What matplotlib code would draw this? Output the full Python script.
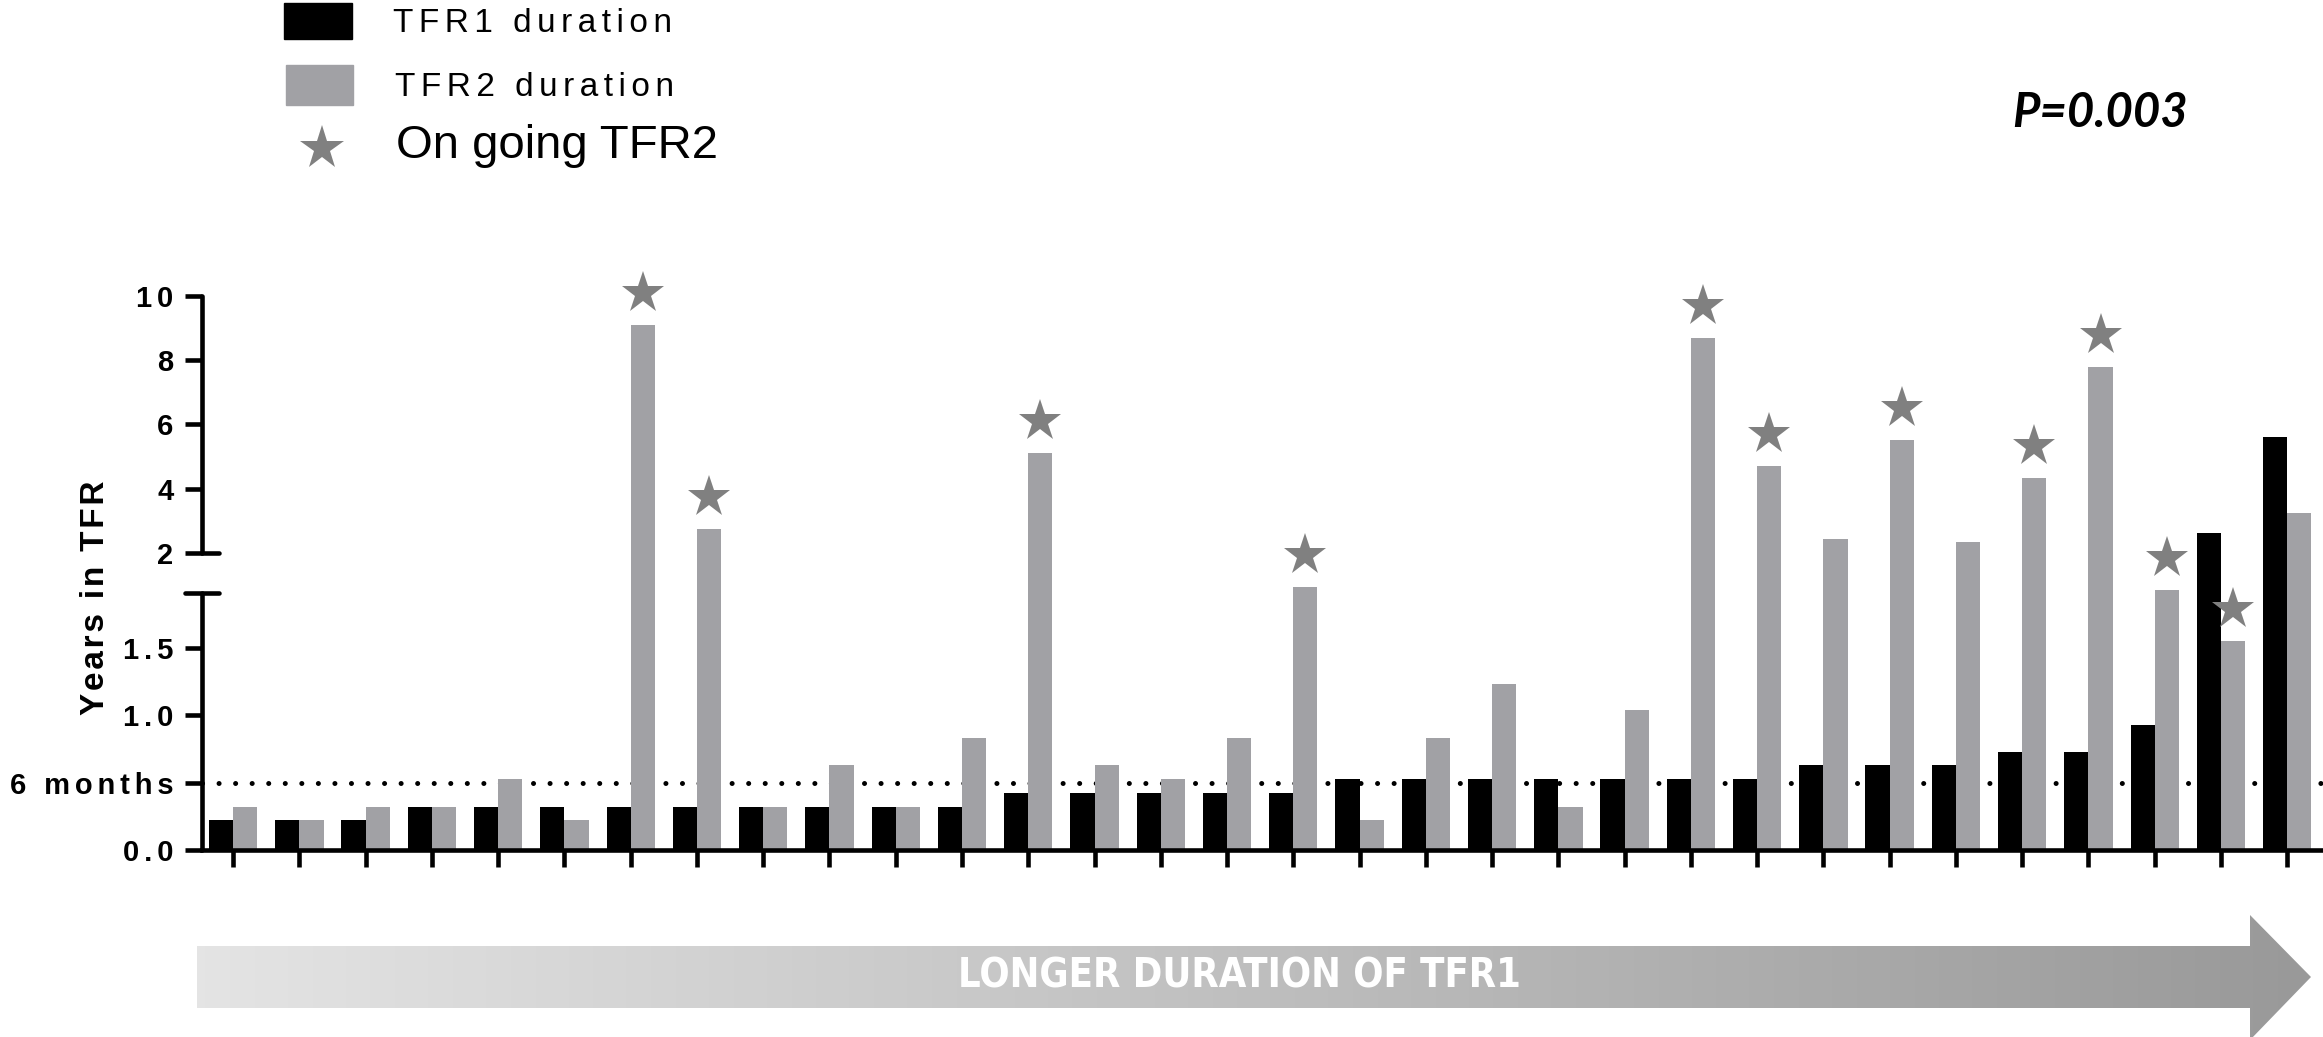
import numpy as np
import matplotlib.pyplot as plt
from matplotlib.patches import Polygon, Rectangle
from matplotlib.colors import LinearSegmentedColormap
from matplotlib.transforms import offset_copy

plt.rcParams['font.family'] = ['Liberation Sans', 'DejaVu Sans']

# data (years)
patients = np.arange(32)
tfr1 = [0.22, 0.22, 0.22, 0.32, 0.32, 0.32, 0.32, 0.32, 0.32, 0.32, 0.32, 0.32,
        0.42, 0.42, 0.42, 0.42, 0.42, 0.53, 0.53, 0.53, 0.53, 0.53, 0.53, 0.53,
        0.63, 0.63, 0.63, 0.73, 0.73, 0.93, 2.63, 5.62]
tfr2 = [0.32, 0.22, 0.32, 0.32, 0.53, 0.22, 9.09, 2.74, 0.32, 0.63, 0.32, 0.83,
        5.10, 0.63, 0.53, 0.83, 1.95, 0.22, 0.83, 1.235, 0.32, 1.04, 8.69, 4.72,
        2.42, 5.52, 2.33, 4.32, 7.80, 1.93, 1.55, 3.23]
ongoing = [0, 0, 0, 0, 0, 0, 1, 1, 0, 0, 0, 0, 1, 0, 0, 0, 1, 0, 0, 0, 0, 0, 1, 1,
           0, 1, 0, 1, 1, 1, 1, 0]
ytick_vals = [0, 0.5, 1.0, 1.5, 2, 4, 6, 8, 10]
ytick_text = ["0.0", "6 months", "1.0", "1.5", "2", "4", "6", "8", "10"]

BLACK = "#000000"
GREY = "#a1a1a5"
STAR = "#808080"
LW = 3.3
SP = "\u2006"  # six-per-em space used as letter spacing


def track(s, sp=SP):
    # fake letter spacing with narrow spaces
    return sp.join(s)


# broken y axis: 0-2 stretched, 2-10 compressed, small gap in between
def fwd(v):
    v = np.asarray(v, dtype=float)
    return np.where(v <= 1.96, 134.6 * v,
                    np.where(v <= 2, 263.8 + (v - 1.96) * 830.0,
                             297.0 + 32.1 * (v - 2)))


def inv(u):
    u = np.asarray(u, dtype=float)
    return np.where(u <= 263.8, u / 134.6,
                    np.where(u <= 297.0, 1.96 + (u - 263.8) / 830.0,
                             2 + (u - 297.0) / 32.1))


W, H = 2323, 1037
fig = plt.figure(figsize=(W / 100, H / 100), dpi=100)
ax = fig.add_axes([202 / W, 1 - 850 / H, (W - 202) / W, 554 / H])
ax.set_yscale('function', functions=(fwd, inv))
ax.set_ylim(0, 10)
ax.set_xlim(-0.47, 31.54)

w = 0.365
ax.bar(patients - w / 2, tfr1, width=w, color=BLACK, zorder=2)
ax.bar(patients + w / 2, tfr2, width=w, color=GREY, zorder=2)
ax.axhline(0.5, color='black', lw=3.6, dashes=(0.01, 3.3),
           dash_capstyle='round', zorder=1)

star_tr = offset_copy(ax.transData, fig=fig, y=32, units='dots')
sx = [p + w / 2 for p, o in zip(patients, ongoing) if o]
sy = [v for v, o in zip(tfr2, ongoing) if o]
ax.plot(sx, sy, ls='none', marker='*', ms=32, mew=0, color=STAR,
        transform=star_tr, clip_on=False, zorder=3)

# axes styling
for s in ['top', 'right', 'left']:
    ax.spines[s].set_visible(False)
ax.spines['bottom'].set_linewidth(LW)
ax.spines['bottom'].set_zorder(4)
ax.set_xticks(patients)
ax.set_xticklabels([])
ax.tick_params(axis='x', direction='out', length=12.5, width=LW)
ax.set_yticks(ytick_vals)
ax.set_yticklabels([track(t) for t in ytick_text], fontsize=21, fontweight='bold')
ax.yaxis.set_minor_locator(plt.NullLocator())
ax.tick_params(axis='y', direction='out', length=12.5, width=LW, pad=8)

# two-piece left axis with break caps
ytr = ax.get_yaxis_transform()
ax.plot([0, 0], [0, 1.91], color='black', lw=LW, transform=ytr, clip_on=False,
        solid_capstyle='round', zorder=4)
ax.plot([0, 0], [2, 10], color='black', lw=LW, transform=ytr, clip_on=False,
        solid_capstyle='round', zorder=4)
cap = 17 / (W - 202)
ax.plot([-cap, cap], [1.91, 1.91], color='black', lw=LW, transform=ytr,
        clip_on=False, solid_capstyle='round', zorder=4)
ax.plot([0, cap], [2, 2], color='black', lw=LW, transform=ytr,
        clip_on=False, solid_capstyle='round', zorder=4)

# overlay in pixel coordinates for legend, labels and arrow
ov = fig.add_axes([0, 0, 1, 1], zorder=-1)
ov.set_xlim(0, W)
ov.set_ylim(H, 0)
ov.axis('off')

ov.text(95, 598, track("Years in TFR", "\u200a"), rotation=90, ha='center',
        va='center', fontsize=24, fontweight='bold')

ov.add_patch(Rectangle((284, 3), 68, 36, color=BLACK))
ov.add_patch(Rectangle((286, 65), 67, 40, color=GREY))
ov.plot([322], [148], marker='*', ms=33, mew=0, color=STAR)
ov.text(393, 23, track("TFR1 duration"), ha='left', va='center', fontsize=24)
ov.text(395, 88, track("TFR2 duration"), ha='left', va='center', fontsize=24)
ov.text(396, 146, "On going TFR2", ha='left', va='center', fontsize=34)

ov.text(2100, 113, "P=0.003", ha='center', va='center', fontsize=34,
        fontweight='bold', fontstyle='italic', family=['Lato', 'DejaVu Sans'])

# gradient arrow at the bottom
arrow = Polygon([(197, 946), (2250, 946), (2250, 915), (2311, 977),
                 (2250, 1040), (2250, 1008), (197, 1008)], closed=True,
                facecolor='none', edgecolor='none')
ov.add_patch(arrow)
grad = LinearSegmentedColormap.from_list('g', ['#e4e4e4', '#999999'])
img = ov.imshow(np.linspace(0, 1, 256)[None, :], cmap=grad, aspect='auto',
                extent=[197, 2311, 1040, 915], zorder=1)
img.set_clip_path(arrow)
ov.set_xlim(0, W)
ov.set_ylim(H, 0)
ov.text(1240, 977, "LONGER DURATION OF TFR1", ha='center', va='center',
        color='white', fontsize=28.5, fontweight='bold', fontstretch='condensed',
        family=['DejaVu Sans'], zorder=2)

fig.savefig("out.png", dpi=100)
